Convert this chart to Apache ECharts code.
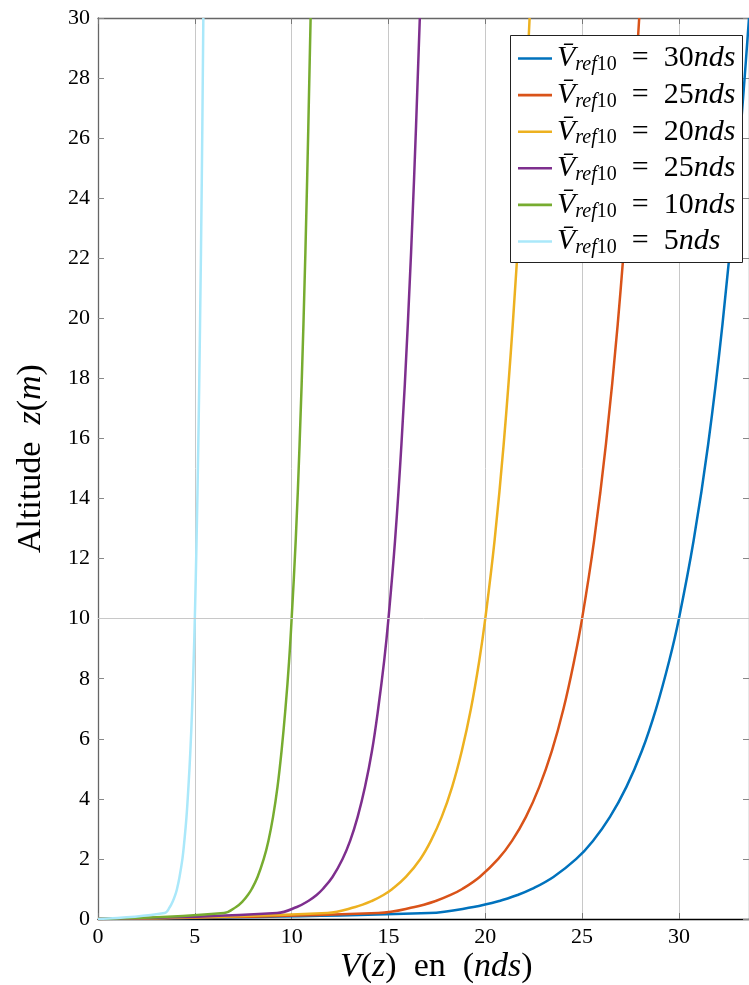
<!DOCTYPE html>
<html><head><meta charset="utf-8">
<script src="https://cdn.jsdelivr.net/npm/echarts@6/dist/echarts.min.js"></script>
<style>html,body{margin:0;padding:0;background:#fff}#c{width:749px;height:985px}</style>
</head><body><div id="c"></div>
<script>
// Altitude samples (m)
const altitude = [0, 0.2, 0.4, 0.6, 0.8, 1.0, 1.4, 2.0, 2.6, 3.4, 4.4, 5.6, 7.0, 8.6, 10, 12.6, 15.8, 19.8, 24.6, 30];
// Wind speed V(z) in knots for each reference speed
const v30 = [0, 17.10, 19.39, 20.73, 21.67, 22.41, 23.52, 24.70, 25.56, 26.44, 27.29, 28.09, 28.82, 29.50, 30.00, 30.76, 31.51, 32.25, 32.97, 33.62];
const v25 = [0, 14.48, 16.35, 17.44, 18.21, 18.81, 19.71, 20.67, 21.38, 22.10, 22.79, 23.44, 24.04, 24.59, 25.00, 25.62, 26.23, 26.84, 27.42, 27.95];
const v20 = [0, 11.85, 13.29, 14.14, 14.74, 15.20, 15.90, 16.65, 17.19, 17.75, 18.29, 18.79, 19.26, 19.69, 20.00, 20.48, 20.95, 21.42, 21.88, 22.29];
const v15 = [0, 9.25, 10.27, 10.86, 11.29, 11.61, 12.11, 12.63, 13.02, 13.41, 13.79, 14.15, 14.47, 14.78, 15.00, 15.34, 15.67, 16.00, 16.32, 16.62];
const v10 = [0, 6.51, 7.13, 7.49, 7.74, 7.94, 8.24, 8.56, 8.80, 9.04, 9.27, 9.48, 9.68, 9.87, 10.00, 10.21, 10.41, 10.61, 10.80, 10.98];
const v5  = [0, 3.44, 3.71, 3.87, 3.99, 4.08, 4.21, 4.36, 4.46, 4.57, 4.67, 4.77, 4.86, 4.94, 5.00, 5.09, 5.18, 5.27, 5.36, 5.44];
// Legend labels (as printed in the reference)
const legendValues = [30, 25, 20, 25, 10, 5];
const xTicks = [0, 5, 10, 15, 20, 25, 30];
const yTicks = [0, 2, 4, 6, 8, 10, 12, 14, 16, 18, 20, 22, 24, 26, 28, 30];
const refLineZ = 10;

const valueSets = [v30, v25, v20, v15, v10, v5];
const colors = ['#0072BD', '#D95319', '#EDB120', '#7E2F8E', '#77AC30', '#AAE8FA'];
const FONT = 'Liberation Serif';
const XMAX = 33.62;

const chart = echarts.init(document.getElementById('c'), null, {renderer: 'canvas'});

const series = valueSets.map((vals, i) => ({
  name: 's' + i,
  type: 'line',
  data: vals.map((v, k) => [v, altitude[k]]),
  symbol: 'none',
  showSymbol: false,
  smooth: 0.4,
  lineStyle: {width: 2.5, color: colors[i]},
  itemStyle: {color: colors[i]},
  z: 3,
  animation: false,
  markLine: i === 0 ? {
    silent: true, symbol: 'none', animation: false,
    label: {show: false},
    lineStyle: {color: '#c8c8c8', width: 1, type: 'solid'},
    data: [{yAxis: refLineZ}]
  } : undefined
}));

const richBase = {
  v: {fontFamily: FONT, fontStyle: 'italic', fontSize: 30, lineHeight: 30, color: '#000'},
  si: {fontFamily: FONT, fontStyle: 'italic', fontSize: 20, lineHeight: 20, color: '#000', padding: [13, 0, 0, 0]},
  su: {fontFamily: FONT, fontSize: 20, lineHeight: 20, color: '#000', padding: [13, 0, 0, 0]},
  t: {fontFamily: FONT, fontSize: 30, lineHeight: 30, color: '#000'},
  i: {fontFamily: FONT, fontStyle: 'italic', fontSize: 30, lineHeight: 30, color: '#000'}
};

const titleRich = {
  i: {fontFamily: FONT, fontStyle: 'italic', fontSize: 34, color: '#000'},
  n: {fontFamily: FONT, fontSize: 34, color: '#000'}
};

const option = {
  backgroundColor: '#fff',
  animation: false,
  grid: {left: 98, top: 18, right: -1, bottom: 66, containLabel: false},
  xAxis: [{
    type: 'value', min: 0, max: XMAX, interval: 5, position: 'bottom',
    axisLine: {show: true, onZero: false, lineStyle: {color: '#000', width: 1.3}},
    axisTick: {show: true, inside: true, length: 6, lineStyle: {color: '#777'}},
    axisLabel: {show: true, showMaxLabel: false, margin: 7, fontFamily: FONT, fontSize: 22, color: '#000',
      formatter: v => xTicks.includes(v) ? String(v) : ''},
    splitLine: {show: true, lineStyle: {color: '#c8c8c8', width: 1}}
  }, {
    type: 'value', min: 0, max: XMAX, interval: 5, position: 'top',
    axisLine: {show: true, onZero: false, lineStyle: {color: '#666', width: 1.3}},
    axisTick: {show: true, inside: true, length: 6, lineStyle: {color: '#777'}},
    axisLabel: {show: false}, splitLine: {show: false}
  }],
  yAxis: [{
    type: 'value', min: 0, max: 30, interval: 2, position: 'left',
    axisLine: {show: true, onZero: false, lineStyle: {color: '#666', width: 1.3}},
    axisTick: {show: true, inside: true, length: 6, lineStyle: {color: '#888'}},
    axisLabel: {show: true, margin: 8, fontFamily: FONT, fontSize: 22, color: '#000',
      formatter: v => yTicks.includes(v) ? String(v) : ''},
    splitLine: {show: false}
  }, {
    type: 'value', min: 0, max: 30, interval: 2, position: 'right',
    axisLine: {show: true, onZero: false, lineStyle: {color: '#666', width: 1.3}},
    axisTick: {show: true, inside: true, length: 6, lineStyle: {color: '#888'}},
    axisLabel: {show: false}, splitLine: {show: false}
  }],
  legend: {
    show: true, orient: 'vertical', left: 511, top: 36, z: 10,
    padding: [6, 4, 4, 7],
    itemWidth: 34, itemHeight: 26, itemGap: 3.6,
    backgroundColor: 'transparent', borderWidth: 0,
    icon: 'path://M0,12 L34,12 L34,14.6 L0,14.6 Z',
    data: series.map((s, i) => ({name: s.name, itemStyle: {color: colors[i]}})),
    formatter: name => {
      const idx = parseInt(name.slice(1), 10);
      return '{v|V\u0304}{si|ref}{su|10}{t|\u2002=\u2002' + legendValues[idx] + '}{i|nds}';
    },
    textStyle: {fontFamily: FONT, fontSize: 30, color: '#000', rich: richBase}
  },
  graphic: [
    {type: 'rect', z: 9, shape: {x: 510.5, y: 35.5, width: 232, height: 227},
     style: {fill: '#fff', stroke: '#222', lineWidth: 1}},
    {type: 'text', z: 10, left: 340, top: 950,
     style: {text: '{i|V}{n|(}{i|z}{n|)\u2002en\u2002(}{i|nds}{n|)}', rich: titleRich}},
    {type: 'text', z: 10, x: 14, y: 553, rotation: Math.PI / 2,
     style: {text: '{n|Altitude\u2002}{i|z}{n|(}{i|m}{n|)}', rich: titleRich}}
  ],
  series: series
};
chart.setOption(option);
</script>
</body></html>
